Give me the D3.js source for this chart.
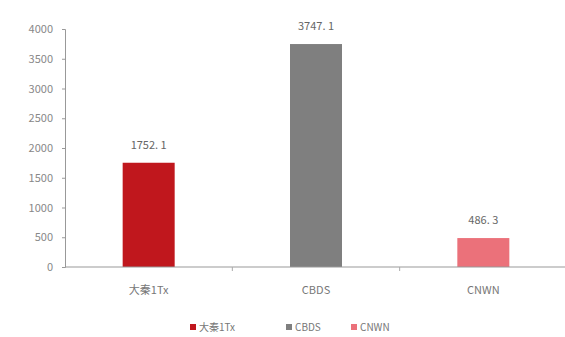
<!DOCTYPE html>
<html>
<head>
<meta charset="utf-8">
<script src="https://cdn.jsdelivr.net/npm/d3@7"></script>
<style>
  body { margin: 0; background: #fff; }
  svg text { font-family: "Noto Sans CJK SC", "DejaVu Sans", sans-serif; }
</style>
</head>
<body>
<div id="chart"></div>
<script>
const categories = ['大秦1Tx', 'CBDS', 'CNWN'];
const values = [1752.1, 3747.1, 486.3];
const colors = ['#c0171d', '#7f7f7f', '#eb717a'];
const yTicks = [0, 500, 1000, 1500, 2000, 2500, 3000, 3500, 4000];

const W = 565, H = 337;
const margin = { top: 29, right: 0, bottom: 70, left: 65 };
const width = W - margin.left - margin.right;
const height = H - margin.top - margin.bottom;

const svg = d3.select('#chart').append('svg')
    .attr('width', W)
    .attr('height', H);

const g = svg.append('g')
    .attr('transform', `translate(${margin.left},${margin.top})`);

const x = d3.scaleBand()
    .domain(categories)
    .range([0, 502])
    .paddingInner(0)
    .paddingOuter(0);

const y = d3.scaleLinear()
    .domain([0, 4000])
    .range([height, 0]);

// y axis
const yAxis = g.append('g')
    .call(d3.axisLeft(y).tickValues(yTicks).tickFormat(d3.format('d')).tickSize(3).tickPadding(9));
yAxis.select('.domain').attr('stroke', '#999');
yAxis.selectAll('.tick line').attr('stroke', '#999');
yAxis.selectAll('.tick text').attr('fill', '#888').style('font-size', '11px');

// bars
const barW = 52;
g.selectAll('.bar')
    .data(values)
    .enter()
    .append('rect')
    .attr('class', 'bar')
    .attr('x', (d, i) => x(categories[i]) + x.bandwidth() / 2 - barW / 2)
    .attr('y', d => y(d))
    .attr('width', barW)
    .attr('height', d => height - y(d))
    .attr('fill', (d, i) => colors[i]);

// value labels
g.selectAll('.val')
    .data(values)
    .enter()
    .append('text')
    .attr('class', 'val')
    .attr('x', (d, i) => x(categories[i]) + x.bandwidth() / 2)
    .attr('y', d => y(d) - 14)
    .attr('text-anchor', 'middle')
    .attr('fill', '#666')
    .style('font-size', '11px')
    .text(d => d3.format('.1f')(d).replace('.', '. '));

// x axis
const xAxisG = g.append('g')
    .attr('transform', `translate(0,${height})`);
xAxisG.append('line')
    .attr('x1', 0).attr('x2', width)
    .attr('stroke', '#999');
xAxisG.selectAll('.xtick')
    .data(categories.slice(1))
    .enter()
    .append('line')
    .attr('x1', d => x(d)).attr('x2', d => x(d))
    .attr('y1', 0).attr('y2', 4)
    .attr('stroke', '#aaa');
xAxisG.selectAll('.xlab')
    .data(categories)
    .enter()
    .append('text')
    .attr('x', d => x(d) + x.bandwidth() / 2)
    .attr('y', 27)
    .attr('text-anchor', 'middle')
    .attr('fill', '#777')
    .style('font-size', '11px')
    .text(d => d);

// legend
const legendX = [193, 289, 354];
const legend = svg.selectAll('.legend')
    .data(categories)
    .enter()
    .append('g')
    .attr('class', 'legend')
    .attr('transform', (d, i) => `translate(${legendX[i]},327)`);
legend.append('rect')
    .attr('x', -3).attr('y', -3)
    .attr('width', 6).attr('height', 6)
    .attr('fill', (d, i) => colors[i]);
legend.append('text')
    .attr('x', 6)
    .attr('y', 4)
    .attr('fill', '#777')
    .style('font-size', '10px')
    .text(d => d);
</script>
</body>
</html>
